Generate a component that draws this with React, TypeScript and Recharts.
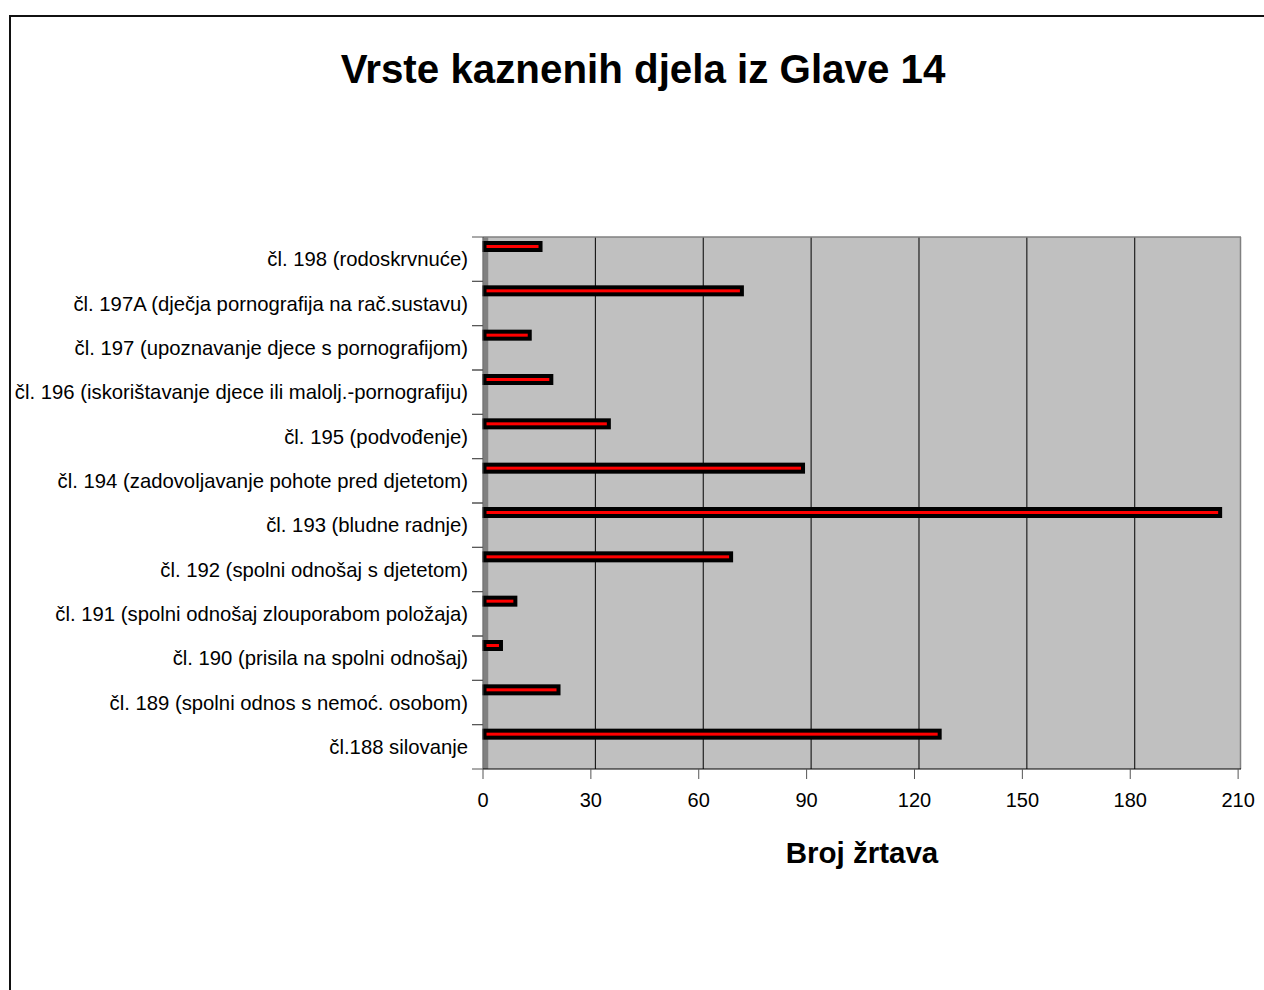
import React from 'react';
import { BarChart, Bar, XAxis, YAxis, CartesianGrid } from 'recharts';

// kategorije odozdo prema gore (redoslijed kao u Excelu)
const categories = [
  'čl.188 silovanje',
  'čl. 189 (spolni odnos s nemoć. osobom)',
  'čl. 190 (prisila na spolni odnošaj)',
  'čl. 191 (spolni odnošaj zlouporabom položaja)',
  'čl. 192 (spolni odnošaj s djetetom)',
  'čl. 193 (bludne radnje)',
  'čl. 194 (zadovoljavanje pohote pred djetetom)',
  'čl. 195 (podvođenje)',
  'čl. 196 (iskorištavanje djece ili malolj.-pornografiju)',
  'čl. 197 (upoznavanje djece s pornografijom)',
  'čl. 197A (dječja pornografija na rač.sustavu)',
  'čl. 198 (rodoskrvnuće)',
];
const victims = [127, 21, 5, 9, 69, 205, 89, 35, 19, 13, 72, 16];
const xTicks = [0, 30, 60, 90, 120, 150, 180, 210];
const gridTicks = [30, 60, 90, 120, 150, 180];
const X_MAX = 210.8;

const data = categories.map((name, i) => ({ name, value: victims[i] }));

const FONT = '"Liberation Sans", Arial, sans-serif';
const PLOT_HEIGHT = 532;
const BAND = PLOT_HEIGHT / categories.length;

const CategoryTick = ({ x, y, payload }: any) => (
  <g>
    <text x={x} y={y} dy="0.35em" textAnchor="end" fontSize={20.3} fill="#000" fontFamily={FONT}>
      {payload.value}
    </text>
    <line x1={x + 4} x2={x + 15} y1={y - BAND / 2} y2={y - BAND / 2} stroke="#555" />
    <line x1={x + 4} x2={x + 15} y1={y + BAND / 2} y2={y + BAND / 2} stroke="#555" />
  </g>
);

const OutlinedBar = (p: any) => (
  <rect
    x={p.x + 1.5}
    y={p.y - 13}
    width={Math.max(p.width - 1.5, 0)}
    height={p.height}
    fill="#ff0000"
    stroke="#000"
    strokeWidth={4}
  />
);

const AxisTitle = ({ viewBox }: any) => (
  <text
    x={viewBox.x + viewBox.width / 2}
    y={viewBox.y + 94}
    textAnchor="middle"
    fontSize={29.5}
    fontWeight="bold"
    fill="#000"
    fontFamily={FONT}
  >
    Broj žrtava
  </text>
);

// mreža je u Excelu malo pomaknuta udesno (3D zid)
const gridX = ({ offset }: any) =>
  gridTicks.map((v) => offset.left + (v / X_MAX) * offset.width + 4.5);

export default function App() {
  return (
    <div
      style={{
        position: 'fixed',
        left: 0,
        top: 0,
        width: 1264,
        height: 990,
        overflow: 'hidden',
        background: '#fff',
        fontFamily: FONT,
      }}
    >
      <div
        style={{
          position: 'absolute',
          left: 9,
          top: 15,
          width: 1300,
          height: 1100,
          border: '2px solid #111',
        }}
      />
      <div
        style={{
          position: 'absolute',
          left: 0,
          top: 50,
          width: 1286,
          textAlign: 'center',
          fontSize: 40.3,
          lineHeight: '40px',
          fontWeight: 'bold',
          color: '#000',
          zIndex: 2,
        }}
      >
        Vrste kaznenih djela iz Glave 14
      </div>
      <div style={{ position: 'absolute', left: 0, top: 0 }}>
        <BarChart
          width={1264}
          height={990}
          data={data}
          layout="vertical"
          margin={{ top: 237, right: 23, bottom: 0, left: 0 }}
        >
          <CartesianGrid
            fill="#c0c0c0"
            stroke="#000"
            horizontal={false}
            verticalCoordinatesGenerator={gridX}
          />
          <CartesianGrid
            stroke="#808080"
            strokeWidth={1.5}
            horizontalCoordinatesGenerator={({ offset }: any) => [offset.top]}
            verticalCoordinatesGenerator={({ offset }: any) => [offset.left + offset.width - 0.5]}
          />
          <CartesianGrid
            stroke="#808080"
            strokeWidth={4.5}
            horizontal={false}
            verticalCoordinatesGenerator={({ offset }: any) => [offset.left + 3]}
          />
          <YAxis
            type="category"
            dataKey="name"
            reversed
            width={483}
            interval={0}
            tick={<CategoryTick />}
            tickLine={false}
            tickSize={11}
            tickMargin={4}
            axisLine={{ stroke: '#404040', strokeWidth: 1 }}
          />
          <XAxis
            type="number"
            domain={[0, X_MAX]}
            ticks={xTicks}
            interval={0}
            height={221}
            tickSize={10}
            tickMargin={14}
            tick={{ fontSize: 20, fill: '#000', fontFamily: FONT }}
            tickLine={{ stroke: '#555' }}
            axisLine={{ stroke: '#000' }}
            label={<AxisTitle />}
          />
          <Bar
            dataKey="value"
            barSize={7}
            shape={<OutlinedBar />}
            isAnimationActive={false}
          />
        </BarChart>
      </div>
    </div>
  );
}
